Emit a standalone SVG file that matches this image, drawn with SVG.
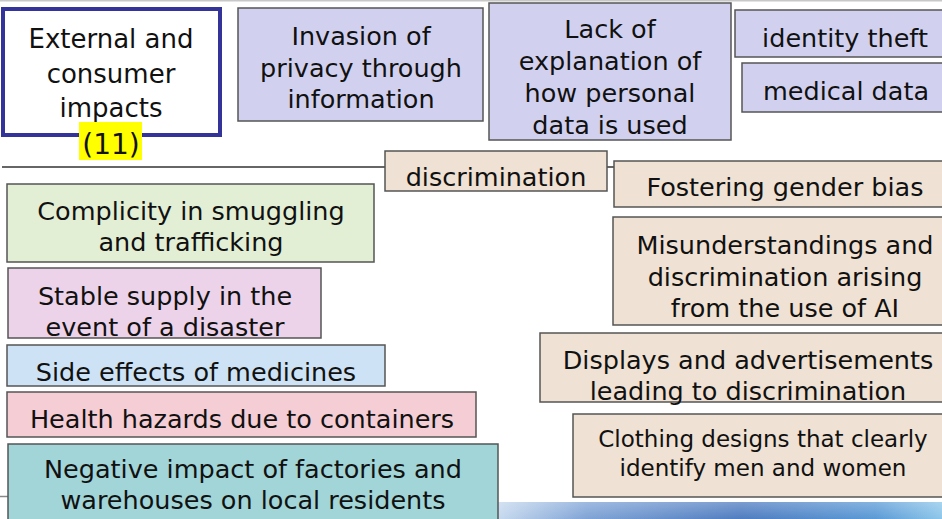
<svg xmlns="http://www.w3.org/2000/svg" width="942" height="519" viewBox="0 0 942 519">
<defs>
<linearGradient id="bar" x1="0" y1="0" x2="1" y2="0">
<stop offset="0" stop-color="#c6d9ee"/>
<stop offset="0.2" stop-color="#7fa3d6"/>
<stop offset="0.55" stop-color="#4f7cc0"/>
<stop offset="0.85" stop-color="#5b9ad6"/>
<stop offset="1" stop-color="#8cc6ea"/>
</linearGradient>
<linearGradient id="barv" x1="0" y1="0" x2="0" y2="1">
<stop offset="0" stop-color="#ffffff" stop-opacity="0.25"/>
<stop offset="1" stop-color="#ffffff" stop-opacity="0"/>
</linearGradient>
</defs>
<style>
text{font-family:"DejaVu Sans","Verdana",sans-serif;font-size:25.5px;fill:#111;text-anchor:middle}
.box{stroke:#555;stroke-width:1.5}
.lav{fill:#d1d1ef}
.bei{fill:#efe1d3}
.sm{font-size:23px}
.conn{stroke:#333;stroke-width:1.5;fill:none}
</style>
<rect x="0" y="0" width="942" height="519" fill="#fff"/>
<line x1="0" y1="0.5" x2="942" y2="0.5" stroke="#c8c8c8" stroke-width="2"/>
<line x1="0" y1="496.5" x2="10" y2="496.5" stroke="#888" stroke-width="1.5"/>
<rect x="498" y="502" width="444" height="17" fill="url(#bar)"/>
<rect x="498" y="502" width="444" height="17" fill="url(#barv)"/>

<g id="connectors">
<line class="conn" x1="2" y1="167" x2="385" y2="167"/>
<line class="conn" x1="607" y1="167" x2="614" y2="167"/>
</g>

<g id="title">
<rect x="3" y="9" width="217" height="126" fill="#fff" stroke="#333399" stroke-width="4"/>
<text x="111" y="48" style="font-size:26px">External and</text>
<text x="111" y="83" style="font-size:26px">consumer</text>
<text x="111" y="117" style="font-size:26px">impacts</text>
<rect x="79" y="122" width="63" height="38" fill="#ffff00"/>
<text x="111" y="154" style="font-size:28px">(11)</text>
</g>

<g id="invasion">
<rect class="box lav" x="238" y="8" width="245" height="113"/>
<text x="361" y="45">Invasion of</text>
<text x="361" y="77">privacy through</text>
<text x="361" y="108">information</text>
</g>

<g id="lack">
<rect class="box lav" x="489" y="3" width="242" height="137"/>
<text x="610" y="38">Lack of</text>
<text x="610" y="70">explanation of</text>
<text x="610" y="102">how personal</text>
<text x="610" y="134">data is used</text>
</g>

<g id="identity">
<rect class="box lav" x="735" y="10" width="220" height="47"/>
<text x="845" y="47">identity theft</text>
</g>

<g id="medical">
<rect class="box lav" x="742" y="63" width="213" height="49"/>
<text x="846" y="100">medical data</text>
</g>

<g id="discrimination">
<rect class="box bei" x="385" y="151" width="222" height="40"/>
<text x="496" y="186">discrimination</text>
</g>

<g id="gender">
<rect class="box bei" x="614" y="161" width="340" height="46"/>
<text x="785" y="196">Fostering gender bias</text>
</g>

<g id="ai">
<rect class="box bei" x="613" y="217" width="340" height="108"/>
<text x="785" y="254">Misunderstandings and</text>
<text x="785" y="286">discrimination arising</text>
<text x="785" y="317">from the use of AI</text>
</g>

<g id="displays">
<rect class="box bei" x="540" y="333" width="414" height="69"/>
<text x="748" y="369">Displays and advertisements</text>
<text x="748" y="400">leading to discrimination</text>
</g>

<g id="clothing">
<rect class="box bei" x="573" y="414" width="380" height="83"/>
<text class="sm" x="763" y="447">Clothing designs that clearly</text>
<text class="sm" x="763" y="476">identify men and women</text>
</g>

<g id="smuggling">
<rect class="box" fill="#e3efd4" x="7" y="184" width="367" height="78"/>
<text x="191" y="220">Complicity in smuggling</text>
<text x="191" y="251">and trafficking</text>
</g>

<g id="supply">
<rect class="box" fill="#ecd3ea" x="8" y="268" width="313" height="70"/>
<text x="165" y="305">Stable supply in the</text>
<text x="165" y="336">event of a disaster</text>
</g>

<g id="side">
<rect class="box" fill="#cde2f4" x="7" y="345" width="378" height="41"/>
<text x="196" y="381">Side effects of medicines</text>
</g>

<g id="health">
<rect class="box" fill="#f4ced4" x="7" y="392" width="469" height="45"/>
<text x="242" y="428">Health hazards due to containers</text>
</g>

<g id="factories">
<rect class="box" fill="#a1d5d8" x="8" y="444" width="490" height="80"/>
<text x="253" y="478">Negative impact of factories and</text>
<text x="253" y="509">warehouses on local residents</text>
</g>
</svg>
